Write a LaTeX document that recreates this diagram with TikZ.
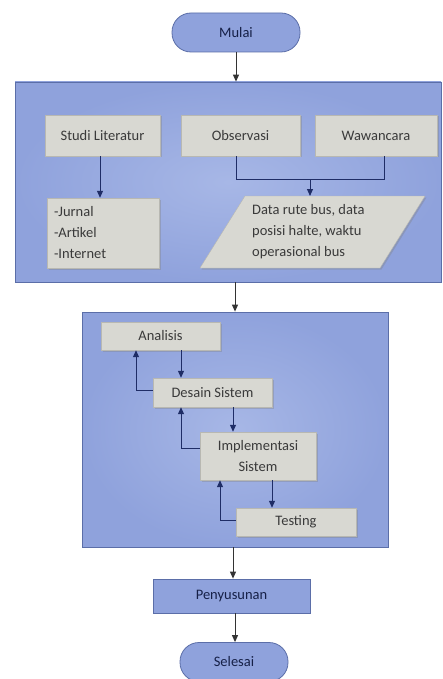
\documentclass[tikz,border=0pt]{standalone}
\usepackage{fontspec}
\setmainfont{Carlito}
\usetikzlibrary{arrows.meta,shadows}
\definecolor{panelblue}{HTML}{8FA2DC}
\definecolor{panelinner}{HTML}{A7B7E6}
\definecolor{paneledge}{HTML}{5B6EA8}
\definecolor{stepgray}{HTML}{D8D8D2}
\definecolor{navy}{HTML}{1F2D66}
\definecolor{txtgray}{HTML}{3A3A3A}
\tikzset{
  labelfont/.style={font=\fontsize{14.5}{21}\selectfont},
  panel/.style={draw=paneledge, line width=0.8pt, inner color=panelinner, outer color=panelblue},
  term/.style={draw=paneledge, line width=0.8pt, rounded corners=19pt, fill=panelblue,
    minimum width=128pt, minimum height=39pt, labelfont, text=navy!70!black},
  procbox/.style={draw=paneledge, line width=0.8pt, fill=panelblue, minimum width=157pt,
    minimum height=34pt, labelfont, text=navy!70!black},
  graybox/.style={fill=stepgray, draw=stepgray!85!black, line width=0.4pt,
    drop shadow={shadow xshift=1.5pt, shadow yshift=-1.5pt, opacity=0.35},
    labelfont, text=txtgray, inner sep=0pt},
  graypath/.style={fill=stepgray, draw=stepgray!85!black, line width=0.4pt,
    drop shadow={shadow xshift=1.5pt, shadow yshift=-1.5pt, opacity=0.35}},
  flow/.style={-{Triangle[length=7pt,width=6pt]}, line width=1pt, draw=black!80},
  inner/.style={-{Triangle[length=7pt,width=6pt]}, line width=1pt, draw=navy},
}
\begin{document}
\begin{tikzpicture}[x=1pt, y=-1pt]
\useasboundingbox (0,0) rectangle (442,679);
\fill[white] (0,0) rectangle (442,679);

% start terminator
\node[term] (mulai) at (236,32.5) {Mulai};

% first panel: data collection
\node[panel, minimum width=426pt, minimum height=200pt, inner sep=0pt] (panelA) at (228,182) {};
\node[graybox, minimum width=115pt, minimum height=41pt] (studi) at (102.5,135.5) {Studi Literatur};
\node[graybox, minimum width=119pt, minimum height=41pt] (obs) at (240.5,135.5) {Observasi};
\node[graybox, minimum width=122pt, minimum height=41pt] (waw) at (376,135.5) {Wawancara};
\node[graybox, minimum width=112pt, minimum height=70pt, align=left, text width=98pt] (jurnal) at (103,233)
  {-Jurnal\\-Artikel\\-Internet};
% data parallelogram
\path[graypath] (245,196) -- (425,196) -- (380,268) -- (200,268) -- cycle;
\coordinate (datatop) at (310,196);
\node[labelfont, text=txtgray, align=left, anchor=west, inner sep=0pt] (datatxt) at (252,232)
  {Data rute bus, data\\posisi halte, waktu\\operasional bus};
\coordinate (obsjoin) at (236,179);
\coordinate (wawjoin) at (384,179);
\coordinate (split) at (310,179);
\draw[line width=1pt, draw=navy] (obs.south -| obsjoin) -- (obsjoin) -- (wawjoin) -- (waw.south -| wawjoin);
\draw[inner] (split) -- (datatop);
\draw[inner] (studi.south -| 100,0) -- (jurnal.north -| 100,0);

% second panel: development cycle
\node[panel, minimum width=306pt, minimum height=235pt, inner sep=0pt] (panelB) at (235,429.5) {};
\node[graybox, minimum width=119pt, minimum height=28pt] (analisis) at (160.5,336) {Analisis};
\node[graybox, minimum width=119pt, minimum height=29pt] (desain) at (212.5,392.5) {Desain Sistem};
\node[graybox, minimum width=116pt, minimum height=48pt, align=center] (impl) at (258,456)
  {Implementasi\\Sistem};
\node[graybox, minimum width=120pt, minimum height=28pt] (testing) at (296,522) {Testing};

\draw[inner] (analisis.south -| 181,0) -- (desain.north -| 181,0);
\draw[inner] (desain.south -| 233,0) -- (impl.north -| 233,0);
\draw[inner] (impl.south -| 272,0) -- (testing.north -| 272,0);
\draw[inner] (desain.west |- 0,390) -| (analisis.south -| 136,0);
\draw[inner] (impl.west |- 0,448) -| (desain.south -| 181,0);
\draw[inner] (testing.west |- 0,520) -| (impl.south -| 220,0);

% closing steps
\node[procbox] (susun) at (231.5,596) {Penyusunan};
\node[term, minimum width=108pt] (selesai) at (234,662) {Selesai};

\draw[flow] (mulai.south) -- (panelA.north -| mulai.south);
\draw[flow] (panelA.south -| 235,0) -- (panelB.north -| 235,0);
\draw[flow] (panelB.south -| 233,0) -- (susun.north -| 233,0);
\draw[flow] (susun.south -| 235,0) -- (selesai.north -| 235,0);
\end{tikzpicture}
\end{document}
